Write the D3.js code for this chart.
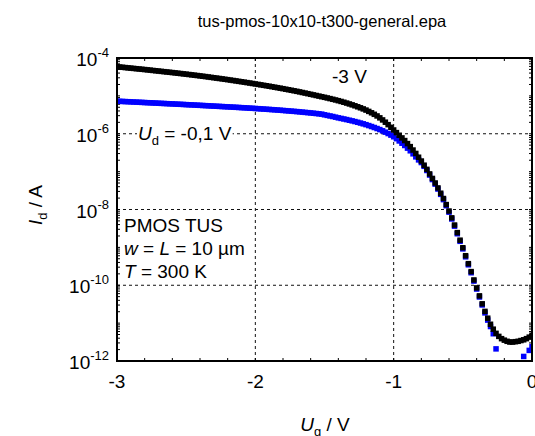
<!DOCTYPE html>
<html><head><meta charset="utf-8">
<script src="https://cdn.jsdelivr.net/npm/d3@7"></script>
<style>
body{margin:0;background:#fff}
svg{display:block}
text{font-family:Arial,"Liberation Sans",sans-serif;fill:#000}
</style>
</head><body>
<svg id="c" width="535" height="436"></svg>
<script>
// ---- data (log10 of drain current in A), Vg sampled from vgStart in steps of vgStep ----
const vgStart = -3, vgStep = 0.02;
const xTickValues = [-3, -2, -1, 0];
const yTickExponents = [-4, -6, -8, -10, -12];
const titleText = "tus-pmos-10x10-t300-general.epa";

// Ud = -3 V (black)
const idBlackLog = [
-4.230,-4.238,-4.245,-4.253,-4.260,-4.268,-4.275,-4.283,-4.290,-4.298,
-4.305,-4.313,-4.321,-4.329,-4.337,-4.345,-4.353,-4.361,-4.369,-4.377,
-4.385,-4.393,-4.402,-4.410,-4.419,-4.427,-4.436,-4.445,-4.454,-4.463,
-4.472,-4.482,-4.491,-4.501,-4.511,-4.521,-4.531,-4.541,-4.551,-4.562,
-4.572,-4.583,-4.594,-4.605,-4.616,-4.627,-4.638,-4.650,-4.661,-4.673,
-4.685,-4.697,-4.709,-4.721,-4.733,-4.745,-4.758,-4.771,-4.784,-4.797,
-4.810,-4.824,-4.838,-4.852,-4.866,-4.880,-4.895,-4.911,-4.926,-4.942,
-4.958,-4.974,-4.990,-5.006,-5.022,-5.038,-5.055,-5.072,-5.090,-5.108,
-5.127,-5.147,-5.168,-5.190,-5.213,-5.237,-5.262,-5.288,-5.315,-5.344,
-5.375,-5.410,-5.447,-5.487,-5.530,-5.580,-5.635,-5.695,-5.760,-5.830,
-5.900,-5.970,-6.040,-6.110,-6.180,-6.260,-6.340,-6.430,-6.520,-6.620,
-6.720,-6.830,-6.940,-7.060,-7.180,-7.300,-7.430,-7.570,-7.710,-7.870,
-8.040,-8.220,-8.410,-8.610,-8.810,-9.010,-9.220,-9.430,-9.640,-9.860,
-10.070,-10.280,-10.490,-10.690,-10.870,-11.030,-11.160,-11.270,-11.350,-11.410,
-11.450,-11.480,-11.500,-11.500,-11.490,-11.480,-11.460,-11.440,-11.410,-11.370,-11.320
];

// Ud = -0.1 V (blue)
const idBlueLog = [
-5.140,-5.144,-5.147,-5.151,-5.154,-5.158,-5.162,-5.165,-5.169,-5.172,
-5.176,-5.180,-5.183,-5.187,-5.190,-5.194,-5.198,-5.201,-5.205,-5.209,
-5.212,-5.216,-5.220,-5.223,-5.227,-5.231,-5.235,-5.238,-5.242,-5.246,
-5.250,-5.254,-5.258,-5.262,-5.266,-5.270,-5.274,-5.278,-5.282,-5.286,
-5.290,-5.294,-5.298,-5.302,-5.306,-5.311,-5.315,-5.319,-5.324,-5.328,
-5.333,-5.338,-5.343,-5.348,-5.353,-5.358,-5.363,-5.368,-5.374,-5.379,
-5.385,-5.391,-5.397,-5.403,-5.409,-5.415,-5.422,-5.429,-5.436,-5.443,
-5.450,-5.458,-5.466,-5.474,-5.482,
-5.500,-5.515,-5.530,-5.545,-5.562,-5.580,-5.595,-5.610,-5.626,-5.643,
-5.660,-5.678,-5.697,-5.717,-5.738,-5.760,-5.784,-5.809,-5.835,-5.862,
-5.890,-5.922,-5.958,-5.995,-6.036,-6.080,
-6.130,-6.190,-6.250,-6.310,-6.380,-6.450,-6.530,-6.610,-6.690,-6.760,
-6.860,-6.970,-7.090,-7.210,-7.330,-7.460,-7.600,-7.740,-7.900,-8.070,
-8.250,-8.440,-8.640,-8.840,-9.040,
-9.250,-9.460,-9.670,-9.890,-10.100,-10.310,-10.520,-10.730,-10.920,-11.090,
-11.280,-11.680,-12.400,-12.250,-12.600,-12.350,-12.800,-12.300,-12.550,-12.400,
-12.700,-11.880,-12.350,-11.720,-11.620
];

// ---- layout ----
const svg = d3.select("#c");
const m = {l:117, r:532, t:58, b:361};
const x = d3.scaleLinear().domain([-3, 0]).range([m.l, m.r]);
const y = d3.scaleLog().domain([1e-12, 1e-4]).range([m.b, m.t]);

svg.append("rect").attr("width",535).attr("height",436).attr("fill","#fff");

svg.append("text").attr("x",322).attr("y",27).attr("text-anchor","middle")
  .style("font-size","16.5px").text(titleText);

svg.append("defs").append("clipPath").attr("id","plotclip")
  .append("rect").attr("x",m.l).attr("y",m.t).attr("width",m.r-m.l).attr("height",m.b-m.t);

// grid
const grid = svg.append("g").attr("stroke","#111").attr("stroke-width",1).attr("stroke-dasharray","3,3");
xTickValues.filter(v => v > -3 && v < 0).forEach(v => {
  grid.append("line").attr("x1",x(v)).attr("x2",x(v)).attr("y1",m.t).attr("y2",m.b);
});
yTickExponents.filter(e => e > -12 && e < -4).forEach(e => {
  grid.append("line").attr("y1",y(Math.pow(10,e))).attr("y2",y(Math.pow(10,e))).attr("x1",m.l).attr("x2",m.r);
});

// minor ticks
const tk = svg.append("g").attr("stroke","#000").attr("stroke-width",1);
d3.range(-2.8, -0.1, 0.2).forEach(v => {
  tk.append("line").attr("x1",x(v)).attr("x2",x(v)).attr("y1",m.b).attr("y2",m.b-3);
  tk.append("line").attr("x1",x(v)).attr("x2",x(v)).attr("y1",m.t).attr("y2",m.t+3);
});
y.ticks().forEach(t => {
  tk.append("line").attr("x1",m.l).attr("x2",m.l+3).attr("y1",y(t)).attr("y2",y(t));
  tk.append("line").attr("x1",m.r).attr("x2",m.r-3).attr("y1",y(t)).attr("y2",y(t));
});

// markers
const ms = 5.5;
const plot = svg.append("g").attr("clip-path","url(#plotclip)");
function drawSeries(arr, color){
  plot.append("g").selectAll("rect").data(arr).join("rect")
    .attr("x",(d,i)=>x(vgStart + i*vgStep) - ms/2)
    .attr("y",d=>y(Math.pow(10,d)) - ms/2)
    .attr("width",ms).attr("height",ms).attr("fill",color);
}
drawSeries(idBlueLog, "#0000ff");
drawSeries(idBlackLog, "#000000");

// frame
svg.append("rect").attr("x",m.l).attr("y",m.t).attr("width",m.r-m.l).attr("height",m.b-m.t)
  .attr("fill","none").attr("stroke","#000").attr("stroke-width",2);

// x tick labels
svg.append("g").selectAll("text").data(xTickValues).join("text")
  .attr("x",d=>x(d)).attr("y",388).attr("text-anchor","middle").style("font-size","19px")
  .text(d=>d3.format("d")(d).replace("\u2212","-"));

// y tick labels
yTickExponents.forEach(e => {
  const t = svg.append("text").attr("x",109).attr("y",y(Math.pow(10,e))+8)
    .attr("text-anchor","end").style("font-size","19px");
  t.append("tspan").text("10");
  t.append("tspan").attr("dy",-9).style("font-size","13px").text(String(e));
});

// axis titles
const xl = svg.append("text").attr("x",325).attr("y",431).attr("text-anchor","middle").style("font-size","19px");
xl.append("tspan").style("font-style","italic").text("U");
xl.append("tspan").attr("dy",5).style("font-size","13px").text("g");
xl.append("tspan").attr("dy",-5).text(" / V");

const yl = svg.append("text").attr("transform","translate(42,205) rotate(-90)").attr("text-anchor","middle").style("font-size","19px");
yl.append("tspan").style("font-style","italic").text("I");
yl.append("tspan").attr("dy",5).style("font-size","13px").text("d");
yl.append("tspan").attr("dy",-5).text(" / A");

// annotations
svg.append("text").attr("x",332).attr("y",83).style("font-size","19px").text("-3 V");

const udG = svg.append("g");
const ud = udG.append("text").attr("x",138).attr("y",140).style("font-size","19px");
ud.append("tspan").style("font-style","italic").text("U");
ud.append("tspan").attr("dy",5).style("font-size","13px").text("d");
ud.append("tspan").attr("dy",-5).text(" = -0,1 V");
const bb = ud.node().getBBox();
udG.insert("rect","text").attr("x",bb.x-1).attr("y",y(1e-6)-2).attr("width",bb.width+2).attr("height",4).attr("fill","#fff");

const info = svg.append("g").style("font-size","19px");
info.append("text").attr("x",124).attr("y",232).text("PMOS TUS");
const l2 = info.append("text").attr("x",124).attr("y",255);
l2.append("tspan").style("font-style","italic").text("w");
l2.append("tspan").text(" = ");
l2.append("tspan").style("font-style","italic").text("L");
l2.append("tspan").text(" = 10 \u00b5m");
const l3 = info.append("text").attr("x",124).attr("y",278);
l3.append("tspan").style("font-style","italic").text("T");
l3.append("tspan").text(" = 300 K");
</script>
</body></html>
